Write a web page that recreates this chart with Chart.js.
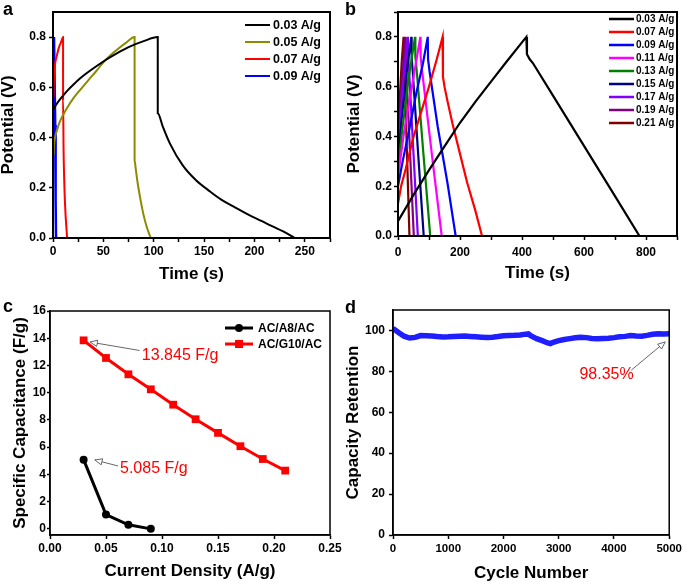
<!DOCTYPE html>
<html><head><meta charset="utf-8">
<script src="https://cdn.jsdelivr.net/npm/chart.js@4.4.1/dist/chart.umd.min.js"></script>
<style>
html,body{margin:0;padding:0;background:#fff;}
body{width:685px;height:582px;position:relative;overflow:hidden;font-family:"Liberation Sans",Arial,sans-serif;}
canvas{position:absolute;}
.lbl{position:absolute;font:bold 18px/18px "Liberation Sans",Arial,sans-serif;color:#000;}
</style></head><body>
<canvas id="ca" style="left:0;top:0" width="340" height="290"></canvas>
<canvas id="cb" style="left:340px;top:0" width="345" height="290"></canvas>
<canvas id="cc" style="left:0;top:290px" width="350" height="292"></canvas>
<canvas id="cd" style="left:340px;top:290px" width="345" height="292"></canvas>
<div class="lbl" style="left:3px;top:0px">a</div>
<div class="lbl" style="left:345px;top:0px">b</div>
<div class="lbl" style="left:3px;top:297px">c</div>
<div class="lbl" style="left:345px;top:298px">d</div>
<script>
// ---------- Panel a: GCD curves (time s, potential V) ----------
const aLabels = ['0.03 A/g','0.05 A/g','0.07 A/g','0.09 A/g'];
const aColors = ['#000000','#8b8b00','#ff0000','#0000ff'];
const aT003 = [0,3,6,10,15,20,27,35,43,50,62,75,90,104,104,109,116,129,142,156,167,179,193,208,218,228,240];
const aV003 = [0.51,0.53,0.547,0.567,0.59,0.61,0.636,0.661,0.684,0.703,0.732,0.760,0.784,0.80,0.497,0.444,0.377,0.288,0.23,0.185,0.153,0.126,0.095,0.066,0.046,0.027,0];
const aT005 = [0.5,1,2,4,7,10,15,20,27,35,43,50,57,65,73,81,81,82,84,87,90,93,97];
const aV005 = [0.33,0.37,0.40,0.43,0.465,0.49,0.525,0.555,0.59,0.628,0.665,0.70,0.728,0.755,0.779,0.80,0.31,0.28,0.22,0.15,0.09,0.045,0];
const aT007 = [0.5,1,2,4,6,8,10,10,10.5,11,11.5,12.5,13.5,14];
const aV007 = [0.56,0.64,0.69,0.73,0.76,0.78,0.80,0.55,0.35,0.25,0.18,0.09,0.03,0];
const aT009 = [0.5,1,1.8,2.2,2.6,3];
const aV009 = [0.62,0.8,0.8,0.45,0.15,0];
const aXTicks = [0,25,50,75,100,125,150,175,200,225,250,275];
const aXLabels = [0,50,100,150,200,250];
const aYTicks = [0,0.2,0.4,0.6,0.8];
const aYLabels = [0,0.2,0.4,0.6,0.8];

// ---------- Panel b ----------
const bLabels = ['0.03 A/g','0.07 A/g','0.09 A/g','0.11 A/g','0.13 A/g','0.15 A/g','0.17 A/g','0.19 A/g','0.21 A/g'];
const bColors = ['#000000','#ff0000','#0000ff','#ff00ff','#008000','#000080','#8000ff','#800080','#800000'];
const bT003 = [0,50,100,150,200,250,300,350,414,416,425,435,500,600,700,779];
const bV003 = [0.06,0.165,0.265,0.36,0.455,0.54,0.62,0.70,0.80,0.73,0.71,0.695,0.564,0.362,0.16,0];
const bT007 = [0,10,25,48,75,100,125,144,145,150,160,176,200,223,250,271];
const bV007 = [0.13,0.2,0.27,0.39,0.5,0.6,0.71,0.8,0.64,0.6,0.54,0.45,0.33,0.215,0.1,0];
const bT009 = [0,15,35,60,80,96,97,102,128,160,186];
const bV009 = [0.2,0.3,0.42,0.58,0.69,0.8,0.71,0.66,0.44,0.21,0];
const bT011 = [0,20,45,72,73,78,110,141];
const bV011 = [0.24,0.42,0.6,0.8,0.72,0.66,0.32,0];
const bT013 = [0,15,35,55,56,60,82,104];
const bV013 = [0.27,0.44,0.64,0.8,0.72,0.67,0.33,0];
const bT015 = [0,12,28,43,44,47,65,83];
const bV015 = [0.3,0.47,0.66,0.8,0.72,0.67,0.33,0];
const bT017 = [0,10,20,32,33,36,50,64];
const bV017 = [0.33,0.5,0.66,0.8,0.72,0.66,0.33,0];
const bT019 = [0,8,16,24,25,27,39,51];
const bV019 = [0.36,0.53,0.68,0.8,0.72,0.66,0.33,0];
const bT021 = [0,6,12,18,19,21,29,37];
const bV021 = [0.4,0.56,0.7,0.8,0.72,0.66,0.33,0];
const bXTicks = [0,100,200,300,400,500,600,700,800,900];
const bXLabels = [0,200,400,600,800];
const bYTicks = [0,0.1,0.2,0.3,0.4,0.5,0.6,0.7,0.8,0.9];
const bYLabels = [0,0.2,0.4,0.6,0.8];

// ---------- Panel c ----------
const cLabels = ['AC/A8/AC','AC/G10/AC'];
const cA8x = [0.03,0.05,0.07,0.09];
const cA8y = [5.085,1.05,0.3,0.0];
const cG10x = [0.03,0.05,0.07,0.09,0.11,0.13,0.15,0.17,0.19,0.21];
const cG10y = [13.845,12.55,11.35,10.25,9.12,8.05,7.05,6.07,5.13,4.28];
const cXTicks = [0,0.05,0.10,0.15,0.20,0.25];
const cYTicks = [0,2,4,6,8,10,12,14,16];

// ---------- Panel d ----------
const dCycles = [0,100,200,300,400,500,600,700,800,900,1000,1100,1200,1300,1400,1500,1600,1700,1800,1900,2000,2100,2200,2300,2400,2450,2500,2600,2700,2800,2850,2900,3000,3100,3200,3300,3400,3500,3600,3700,3800,3900,4000,4100,4200,4300,4400,4500,4600,4700,4800,4900,5000];
const dRetention = [101.0,99.0,97.2,96.3,96.6,97.5,97.4,97.3,97.0,96.8,96.9,97.1,97.2,97.3,97.1,96.9,96.7,96.5,96.7,97.0,97.4,97.5,97.6,97.8,98.2,98.3,97.3,96.0,95.0,93.9,93.6,94.2,95.0,95.6,96.0,96.4,96.7,96.5,96.1,95.9,96.1,96.2,96.5,96.9,97.1,97.5,97.3,97.2,97.6,98.1,98.4,98.3,98.35];
const dXTicks = [0,1000,2000,3000,4000,5000];
const dYTicks = [0,20,40,60,80,100];

// ---------- helpers ----------
const FONT = "'Liberation Sans', Arial, sans-serif";
Chart.defaults.font.family = FONT;
Chart.defaults.color = '#000';
Chart.defaults.animation = false;

const pts = (xs, ys) => xs.map((x, i) => ({x: x, y: ys[i]}));

const framePlugin = {
  id: 'frame',
  afterDatasetsDraw(chart, args, o) {
    const a = chart.chartArea, ctx = chart.ctx;
    ctx.save(); ctx.strokeStyle = '#000'; ctx.lineWidth = (o && o.width) || 1.5;
    ctx.strokeRect(a.left, a.top, a.right - a.left, a.bottom - a.top);
    ctx.restore();
  }
};

const legendPlugin = {
  id: 'miniLegend',
  afterDraw(chart, args, o) {
    if (!o || !o.show) return;
    const ctx = chart.ctx, a = chart.chartArea;
    const x0 = a.right - o.dx, y0 = a.top + o.dy;
    ctx.save();
    ctx.font = o.font; ctx.textBaseline = 'middle'; ctx.textAlign = 'left';
    chart.data.datasets.forEach((ds, i) => {
      const y = y0 + i * o.spacing;
      ctx.strokeStyle = ds.borderColor; ctx.lineWidth = o.lineWidth;
      ctx.beginPath(); ctx.moveTo(x0, y); ctx.lineTo(x0 + o.len, y); ctx.stroke();
      if (o.markers) {
        const mx = x0 + o.len / 2;
        ctx.fillStyle = ds.borderColor;
        if (ds.pointStyle === 'rect') { ctx.fillRect(mx - 4, y - 4, 8, 8); }
        else { ctx.beginPath(); ctx.arc(mx, y, 4, 0, Math.PI * 2); ctx.fill(); }
      }
      ctx.fillStyle = '#000';
      ctx.fillText(ds.label, x0 + o.len + o.gap, y + 0.5);
    });
    ctx.restore();
  }
};

const annotPlugin = {
  id: 'annot',
  afterDraw(chart, args, o) {
    if (!o || !o.items) return;
    const xs = chart.scales.x, ys = chart.scales.y, ctx = chart.ctx;
    o.items.forEach(it => {
      ctx.save();
      if (it.arrow) {
        const x1 = xs.getPixelForValue(it.arrow[0]), y1 = ys.getPixelForValue(it.arrow[1]);
        const x2 = xs.getPixelForValue(it.arrow[2]), y2 = ys.getPixelForValue(it.arrow[3]);
        ctx.strokeStyle = '#666'; ctx.lineWidth = 1;
        ctx.beginPath(); ctx.moveTo(x1, y1); ctx.lineTo(x2, y2); ctx.stroke();
        const ang = Math.atan2(y2 - y1, x2 - x1), L = 8, w = 0.4;
        ctx.beginPath();
        ctx.moveTo(x2 - L * Math.cos(ang - w), y2 - L * Math.sin(ang - w));
        ctx.lineTo(x2, y2);
        ctx.lineTo(x2 - L * Math.cos(ang + w), y2 - L * Math.sin(ang + w));
        ctx.closePath(); ctx.fillStyle = '#fff'; ctx.fill(); ctx.stroke();
      }
      ctx.font = it.font; ctx.fillStyle = it.color; ctx.textBaseline = 'middle'; ctx.textAlign = 'left';
      ctx.fillText(it.text, xs.getPixelForValue(it.x), ys.getPixelForValue(it.y));
      ctx.restore();
    });
  }
};

function axis(c) {
  return {
    type: 'linear', min: c.min, max: c.max,
    afterBuildTicks: s => { s.ticks = c.ticks.map(v => ({value: v})); },
    afterFit: s => { if (c.isY) s.width = c.size; else s.height = c.size; },
    ticks: {
      autoSkip: false, maxRotation: 0, minRotation: 0, padding: c.pad, color: '#000',
      font: {size: c.tickSize || 12, weight: 'bold'},
      callback: v => c.labels.some(l => Math.abs(l - v) < 1e-9) ? c.fmt(v) : ''
    },
    grid: {drawOnChartArea: false, drawTicks: true, tickLength: c.tl, tickColor: '#000', tickWidth: 1.5, color: '#000'},
    border: {display: true, color: '#000', width: 1.5},
    title: {
      display: true, text: c.title, color: '#000',
      font: {size: 17, weight: 'bold', lineHeight: 1},
      padding: c.isY ? {top: c.tp, bottom: 0} : {top: 0, bottom: c.tp}
    }
  };
}

function lineSet(label, color, xs, ys, w, smooth) {
  const s = {label: label, data: pts(xs, ys), borderColor: color, backgroundColor: color,
    borderWidth: w, pointRadius: 0, tension: 0, fill: false};
  if (smooth) { s.cubicInterpolationMode = 'monotone'; }
  return s;
}

// ---------- Chart a ----------
new Chart(document.getElementById('ca'), {
  type: 'line',
  data: {datasets: [
    lineSet(aLabels[0], aColors[0], aT003, aV003, 2, true),
    lineSet(aLabels[1], aColors[1], aT005, aV005, 2, true),
    lineSet(aLabels[2], aColors[2], aT007, aV007, 2, true),
    lineSet(aLabels[3], aColors[3], aT009, aV009, 2.5, false)
  ]},
  options: {
    responsive: false, animation: false,
    layout: {padding: {top: 12, right: 10, left: 0, bottom: 0}},
    scales: {
      x: axis({min: 0, max: 275, ticks: aXTicks, labels: aXLabels, fmt: v => String(v), title: 'Time (s)', size: 52, tl: 4, pad: 2, tp: 7.5}),
      y: axis({isY: true, min: 0, max: 0.9, ticks: aYTicks, labels: aYLabels, fmt: v => v.toFixed(1), title: 'Potential (V)', size: 53, tl: 4, pad: 3, tp: 0})
    },
    plugins: {
      legend: {display: false}, tooltip: {enabled: false},
      frame: {width: 2},
      miniLegend: {show: true, dx: 85, dy: 13, spacing: 17, len: 25, gap: 3, lineWidth: 2, font: "bold 12.5px " + FONT}
    }
  },
  plugins: [framePlugin, legendPlugin]
});

// ---------- Chart b ----------
new Chart(document.getElementById('cb'), {
  type: 'line',
  data: {datasets: [
    lineSet(bLabels[0], bColors[0], bT003, bV003, 2.2),
    lineSet(bLabels[1], bColors[1], bT007, bV007, 2.2),
    lineSet(bLabels[2], bColors[2], bT009, bV009, 2.2),
    lineSet(bLabels[3], bColors[3], bT011, bV011, 2.2),
    lineSet(bLabels[4], bColors[4], bT013, bV013, 2.2),
    lineSet(bLabels[5], bColors[5], bT015, bV015, 2.2),
    lineSet(bLabels[6], bColors[6], bT017, bV017, 2.2),
    lineSet(bLabels[7], bColors[7], bT019, bV019, 2.2),
    lineSet(bLabels[8], bColors[8], bT021, bV021, 2.2)
  ]},
  options: {
    responsive: false, animation: false,
    layout: {padding: {top: 12, right: 8, left: 0, bottom: 0}},
    scales: {
      x: axis({min: 0, max: 900, ticks: bXTicks, labels: bXLabels, fmt: v => String(v), title: 'Time (s)', size: 54, tl: 4, pad: 5, tp: 8.5}),
      y: axis({isY: true, min: 0, max: 0.9, ticks: bYTicks, labels: bYLabels, fmt: v => v.toFixed(1), title: 'Potential (V)', size: 58, tl: 4, pad: 2, tp: 5.5})
    },
    plugins: {
      legend: {display: false}, tooltip: {enabled: false},
      frame: {width: 2},
      miniLegend: {show: true, dx: 68, dy: 7, spacing: 13, len: 25, gap: 2, lineWidth: 2.5, font: "bold 10px " + FONT}
    }
  },
  plugins: [framePlugin, legendPlugin]
});

// ---------- Chart c ----------
new Chart(document.getElementById('cc'), {
  type: 'line',
  data: {datasets: [
    {label: cLabels[0], data: pts(cA8x, cA8y), borderColor: '#000', backgroundColor: '#000', borderWidth: 3,
      pointStyle: 'circle', pointRadius: 4, pointBorderWidth: 0, tension: 0, fill: false},
    {label: cLabels[1], data: pts(cG10x, cG10y), borderColor: '#ff0000', backgroundColor: '#ff0000', borderWidth: 3,
      pointStyle: 'rect', pointRadius: 5.5, pointBorderWidth: 0, tension: 0, fill: false}
  ]},
  options: {
    responsive: false, animation: false,
    layout: {padding: {top: 21, right: 20, left: 0, bottom: 0}},
    scales: {
      x: axis({min: 0, max: 0.25, ticks: cXTicks, labels: cXTicks, fmt: v => v.toFixed(2), title: 'Current Density (A/g)', size: 47, tl: 4, pad: 2, tp: 2.5}),
      y: axis({isY: true, min: -0.45, max: 16, ticks: cYTicks, labels: cYTicks, fmt: v => String(v), title: 'Specific Capacitance (F/g)', size: 50, tl: 3, pad: 1, tp: 11.5})
    },
    plugins: {
      legend: {display: false}, tooltip: {enabled: false},
      frame: {width: 1.5},
      miniLegend: {show: true, markers: true, dx: 105, dy: 17, spacing: 16, len: 28, gap: 5, lineWidth: 3, font: "bold 12px " + FONT},
      annot: {items: [
        {text: '13.845 F/g', x: 0.082, y: 12.75, color: '#ff0000', font: "16px " + FONT, arrow: [0.080, 13.1, 0.0357, 13.72]},
        {text: '5.085 F/g', x: 0.0625, y: 4.4, color: '#ff0000', font: "16px " + FONT, arrow: [0.0607, 4.62, 0.040, 5.06]}
      ]}
    }
  },
  plugins: [framePlugin, legendPlugin, annotPlugin]
});

// ---------- Chart d ----------
new Chart(document.getElementById('cd'), {
  type: 'line',
  data: {datasets: [
    {label: 'Capacity Retention', data: pts(dCycles, dRetention), borderColor: '#1e1eff', backgroundColor: '#1e1eff',
      borderWidth: 5.5, pointRadius: 0, tension: 0, fill: false}
  ]},
  options: {
    responsive: false, animation: false,
    layout: {padding: {top: 20, right: 15, left: 0, bottom: 0}},
    scales: {
      x: axis({min: 0, max: 5000, ticks: dXTicks, labels: dXTicks, fmt: v => String(v), title: 'Cycle Number', size: 47, tl: 4, pad: 3, tp: 0.5, tickSize: 11.5}),
      y: axis({isY: true, min: 0, max: 110, ticks: dYTicks, labels: dYTicks, fmt: v => String(v), title: 'Capacity Retention', size: 53, tl: 4, pad: 4, tp: 4.5})
    },
    plugins: {
      legend: {display: false}, tooltip: {enabled: false},
      frame: {width: 1.5},
      annot: {items: [
        {text: '98.35%', x: 3375, y: 78.2, color: '#ff0000', font: "16px " + FONT, arrow: [4314, 80.6, 4928, 94.4]}
      ]}
    }
  },
  plugins: [framePlugin, annotPlugin]
});
</script>
</body></html>
